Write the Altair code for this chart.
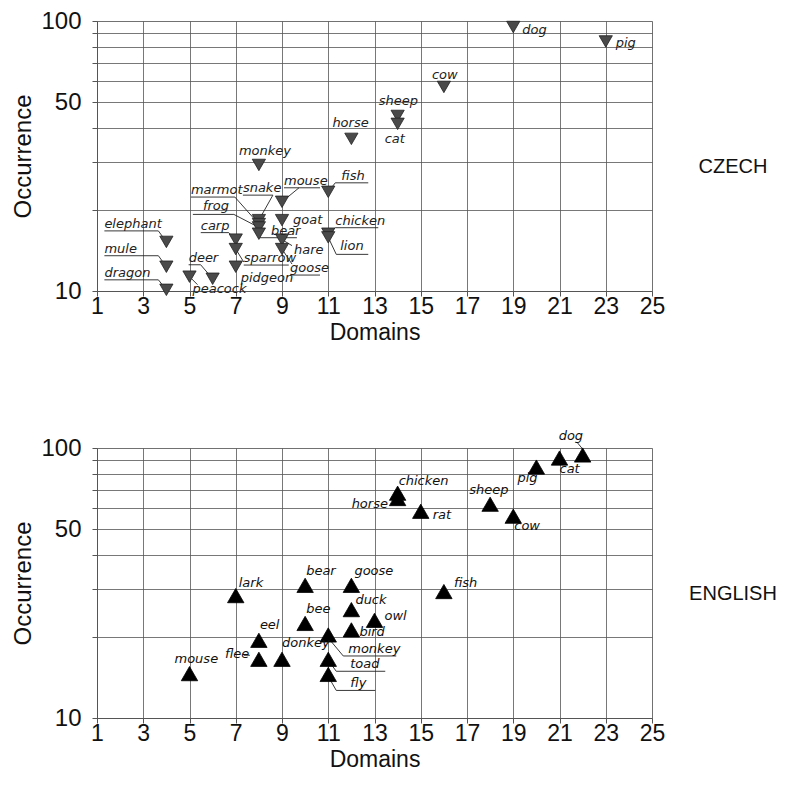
import altair as alt
import pandas as pd

# ---------------- data ----------------
cz_names = ["dog", "pig", "cow", "sheep", "cat", "horse", "monkey", "fish", "mouse",
            "snake", "goat", "marmot", "frog", "chicken", "bear", "lion", "hare",
            "elephant", "carp", "goose", "sparrow", "mule", "pidgeon", "peacock",
            "deer", "dragon"]
cz_domains = [19, 23, 16, 14, 14, 12, 8, 11, 9,
              8, 9, 8, 8, 11, 8, 11, 9,
              4, 7, 9, 7, 4, 7, 5,
              6, 4]
cz_occurrence = [95, 84, 57, 44.5, 41.6, 36.6, 29.3, 23.3, 21.4,
                 18.3, 18.3, 17.7, 17.2, 16.3, 16.3, 15.8, 15.5,
                 15.2, 15.5, 14.3, 14.3, 12.3, 12.3, 11.3,
                 11.1, 10.1]

en_names = ["dog", "cat", "pig", "chicken", "horse", "sheep", "rat", "cow",
            "bear", "goose", "fish", "lark", "duck", "owl", "bee", "bird",
            "monkey", "eel", "flee", "donkey", "toad", "mouse", "fly"]
en_domains = [22, 21, 20, 14, 14, 18, 15, 19,
              10, 12, 16, 7, 12, 13, 10, 12,
              11, 8, 8, 9, 11, 5, 11]
en_occurrence = [94.2, 91.8, 85, 68, 65, 61.9, 58.3, 55.9,
                 31, 31, 29.4, 28.4, 25.2, 23, 22.4, 21.2,
                 20.3, 19.4, 16.5, 16.5, 16.5, 14.6, 14.5]

x_ticks = list(range(1, 26, 2))
x_ticks_all = list(range(1, 26))
y_grid = [10, 20, 30, 40, 50, 60, 70, 80, 90, 100]
y_labelled = [10, 50, 100]

# ---------------- label placement (pixel offsets from the marker) ----------------
# t: text left/baseline, u: underline (x1, x2, y), l: leader (x1, y1, x2, y2)
cz_layout = {
    "dog": dict(t=(9, 7)),
    "pig": dict(t=(10, 6)),
    "cow": dict(t=(-12, -8)),
    "sheep": dict(t=(-19, -11)),
    "cat": dict(t=(-13, 19)),
    "horse": dict(t=(-19, -12)),
    "monkey": dict(t=(-20, -10)),
    "marmot": dict(t=(-68, -30), u=(-68, -24, -27), l=(-24, -27, 0, 0)),
    "snake": dict(t=(-16, -28), u=(-16, 14, -25), l=(14, -25, 0, 0)),
    "frog": dict(t=(-56, -17), u=(-66, -25, -13), l=(-25, -13, 0, 0)),
    "bear": dict(t=(12, 1), u=(1, 38, 4)),
    "goat": dict(t=(11, 4)),
    "mouse": dict(t=(2, -17), u=(2, 38, -14), l=(17, -14, 0, 0)),
    "fish": dict(t=(13, -12), u=(7, 40, -9), l=(7, -9, 0, 0)),
    "chicken": dict(t=(7, -9), u=(7, 50, -6), l=(7, -6, 0, 0)),
    "lion": dict(t=(12, 13), u=(8, 40, 17), l=(8, 17, 0, 0)),
    "hare": dict(t=(12, 14), l=(10, 6, 0, 0)),
    "goose": dict(t=(8, 23), u=(8, 38, 26), l=(0, 0, 10, 15)),
    "elephant": dict(t=(-62, -14), u=(-62, -8, -11), l=(-8, -11, 0, 0)),
    "carp": dict(t=(-35, -10), u=(-35, -7, -7), l=(-7, -7, 0, 0)),
    "sparrow": dict(t=(8, 13), u=(8, 53, 16), l=(0, 0, 8, 13)),
    "mule": dict(t=(-62, -14), u=(-62, -8, -11), l=(-8, -11, 0, 0)),
    "dragon": dict(t=(-62, -13), u=(-62, -8, -10), l=(-8, -10, 0, 0)),
    "pidgeon": dict(t=(5, 15)),
    "deer": dict(t=(-24, -17), u=(-24, -12, -14), l=(-12, -14, 0, 0)),
    "peacock": dict(t=(3, 16), l=(2, 2, 8, 8)),
}
en_layout = {
    "dog": dict(t=(-24, -15), l=(-5, -12, 0, -6)),
    "cat": dict(t=(0, 15)),
    "pig": dict(t=(-19, 15)),
    "chicken": dict(t=(1, -8)),
    "horse": dict(t=(-46, 9)),
    "sheep": dict(t=(-21, -10)),
    "rat": dict(t=(12, 8)),
    "cow": dict(t=(1, 14)),
    "bear": dict(t=(1, -10)),
    "goose": dict(t=(3, -10)),
    "fish": dict(t=(10, -5)),
    "lark": dict(t=(3, -9)),
    "duck": dict(t=(4, -6)),
    "owl": dict(t=(10, 0)),
    "bee": dict(t=(1, -10)),
    "bird": dict(t=(8, 6)),
    "monkey": dict(t=(20, 18), u=(15, 68, 21), l=(0, 3, 15, 21)),
    "eel": dict(t=(1, -11)),
    "flee": dict(t=(-34, -1), l=(-15, -4, -9, -4)),
    "donkey": dict(t=(0, -12)),
    "toad": dict(t=(22, 9), u=(8, 57, 12), l=(0, 1, 8, 12)),
    "fly": dict(t=(22, 13), u=(8, 47, 16), l=(0, 2, 8, 16)),
    "mouse": dict(t=(-15, -11)),
}

W, H = 555, 270
PXU = W / 24.0  # pixels per domain unit
FONT = "Liberation Sans"


def px_to_data(x, y, dx, dy):
    return x + dx / PXU, y * 10 ** (-dy / H)


def panel(names, domains, occ, layout, shape, fill, stroke, size, side, grid_x, label_color):
    pts = pd.DataFrame({"name": names, "Domains": domains, "Occurrence": occ})
    texts, segs = [], []
    for n, x, y in zip(names, domains, occ):
        lay = layout[n]
        tx, ty = px_to_data(x, y, *lay["t"])
        texts.append({"name": n, "tx": tx, "ty": ty})
        if "u" in lay:
            ux1, ux2, uy = lay["u"]
            a = px_to_data(x, y, ux1, uy)
            b = px_to_data(x, y, ux2, uy)
            segs.append({"x1": a[0], "y1": a[1], "x2": b[0], "y2": b[1]})
        if "l" in lay:
            lx1, ly1, lx2, ly2 = lay["l"]
            a = px_to_data(x, y, lx1, ly1)
            b = px_to_data(x, y, lx2, ly2)
            segs.append({"x1": a[0], "y1": a[1], "x2": b[0], "y2": b[1]})
    texts = pd.DataFrame(texts)
    segs = pd.DataFrame(segs)

    xs = alt.Scale(domain=[1, 25], nice=False, zero=False)
    ys = alt.Scale(type="log", domain=[10, 100], nice=False)
    lab_expr = "(datum.value % 2 == 1) ? datum.label : ''"
    xaxis = alt.Axis(values=grid_x, labelExpr=lab_expr, title="Domains",
                     grid=True, gridColor="#555", gridWidth=0.8,
                     domainColor="#555", tickColor="#555", tickSize=5,
                     labelFont=FONT, labelFontSize=23, labelColor="#111",
                     labelPadding=-1, titleFont=FONT, titleFontSize=23,
                     titleFontWeight="normal", titleColor="#111", titlePadding=3,
                     labelFlush=False, labelOverlap=False)
    yaxis = alt.Axis(values=y_grid, format="d",
                     labelExpr="indexof([10,50,100], datum.value) >= 0 ? datum.label : ''",
                     title="Occurrence", grid=True, gridColor="#555", gridWidth=0.8,
                     domainColor="#555", tickColor="#555", tickSize=5,
                     labelFont=FONT, labelFontSize=24, labelColor="#111",
                     labelPadding=11, titleFont=FONT, titleFontSize=24,
                     titleFontWeight="normal", titleColor="#111", titlePadding=5,
                     labelFlush=False, labelOverlap=False)

    base_pts = alt.Chart(pts).mark_point(shape=shape, filled=True, size=size,
                                         fill=fill, stroke=stroke, strokeWidth=0.8,
                                         opacity=1).encode(
        x=alt.X("Domains:Q", scale=xs, axis=xaxis),
        y=alt.Y("Occurrence:Q", scale=ys, axis=yaxis),
    )
    rules = alt.Chart(segs).mark_rule(color="#222", strokeWidth=0.9).encode(
        x=alt.X("x1:Q", scale=xs), y=alt.Y("y1:Q", scale=ys),
        x2="x2:Q", y2="y2:Q",
    )
    labels = alt.Chart(texts).mark_text(align="left", baseline="alphabetic",
                                        font="DejaVu Sans", fontStyle="italic",
                                        fontSize=13, color=label_color).encode(
        x=alt.X("tx:Q", scale=xs), y=alt.Y("ty:Q", scale=ys), text="name:N",
    )
    side_txt = alt.Chart(pd.DataFrame({"t": [side]})).mark_text(
        font=FONT, fontSize=20, color="#111", align="center", baseline="middle"
    ).encode(x=alt.value(636), y=alt.value(146), text="t:N")

    return alt.layer(rules, base_pts, labels, side_txt).properties(width=W, height=H)


top = panel(cz_names, cz_domains, cz_occurrence, cz_layout, "triangle-down",
            "#4a4a4a", "#222", 175, "CZECH", x_ticks, "#222")
bottom = panel(en_names, en_domains, en_occurrence, en_layout, "triangle-up",
               "#000", "#000", 270, "ENGLISH", x_ticks_all, "#111")

chart = alt.vconcat(top, bottom, spacing=84).properties(
    padding={"left": 3, "top": 0, "right": 0, "bottom": 0}
).configure_view(stroke="#555", strokeWidth=0.8).configure(background="white")

chart.save("out.html", embed_options={"renderer": "svg", "actions": False})
